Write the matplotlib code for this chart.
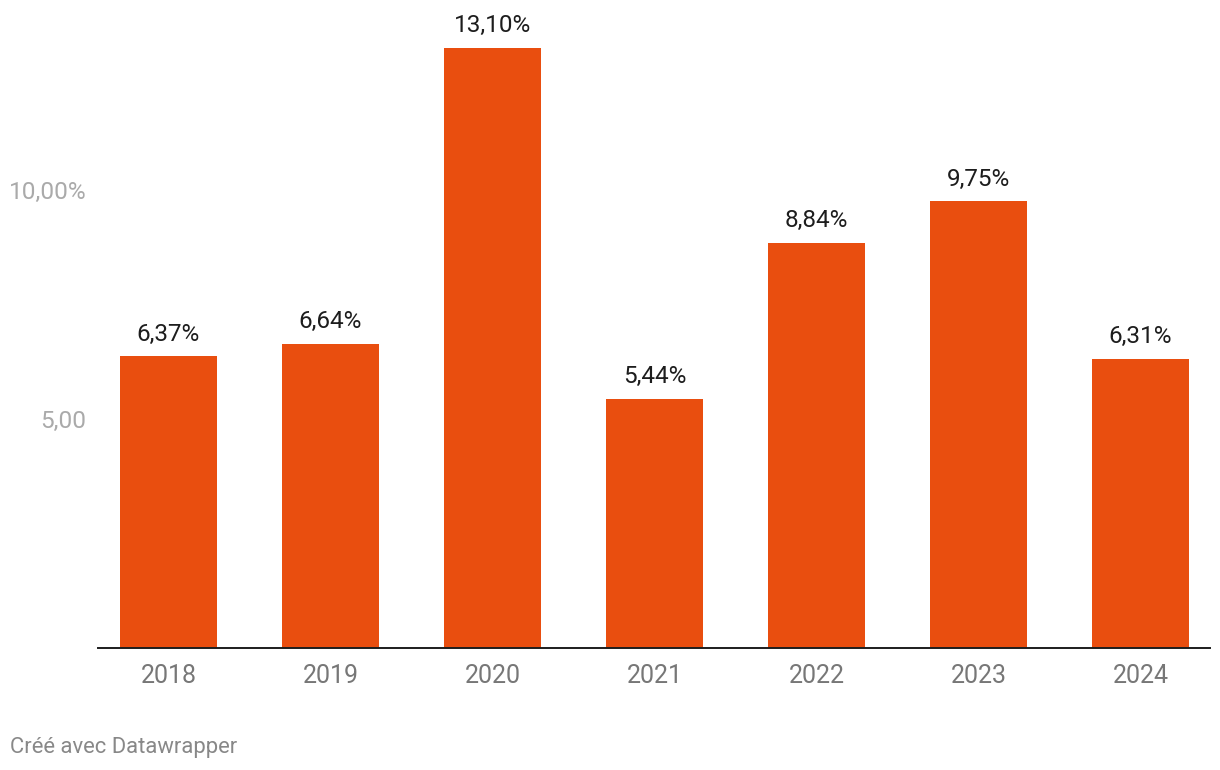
import matplotlib.pyplot as plt

plt.rcParams['font.family'] = ['Roboto', 'DejaVu Sans']

# data
years = ["2018", "2019", "2020", "2021", "2022", "2023", "2024"]
rates = [6.37, 6.64, 13.10, 5.44, 8.84, 9.75, 6.31]
labels = ["6,37%", "6,64%", "13,10%", "5,44%", "8,84%", "9,75%", "6,31%"]
yticks = [5, 10]
ytick_labels = ["5,00", "10,00%"]

W, H = 1220, 770
fig = plt.figure(figsize=(W / 100, H / 100), dpi=100)
ax = fig.add_axes([98 / W, 1 - 648 / H, (1210 - 98) / W, 600 / H])

x = range(len(years))
ax.bar(x, rates, width=0.6, color="#E94E0F", zorder=2)

for i, (v, t) in enumerate(zip(rates, labels)):
    ax.annotate(t, (i, v), xytext=(0, 16), textcoords="offset points",
                ha="center", va="center", fontsize=17.5, color="#1d1d1d")

ax.set_xlim((98 - 168.5) / 162, (1210 - 168.5) / 162)
ax.set_ylim(0, 13.1)

for s in ["top", "right", "left"]:
    ax.spines[s].set_visible(False)
ax.spines["bottom"].set_color("#1d1d1d")
ax.spines["bottom"].set_linewidth(1.4)
ax.spines["bottom"].set_zorder(3)

ax.set_xticks(list(x))
ax.set_xticklabels(years, fontsize=18, color="#777777")
ax.tick_params(axis="x", length=0, pad=11.5)

ax.set_yticks(yticks)
ax.set_yticklabels(ytick_labels, fontsize=17.6, color="#aaaaaa")
ax.tick_params(axis="y", length=0, pad=8.5)

fig.text(10 / W, 1 - 748 / H, "Créé avec Datawrapper", fontsize=15.8,
         color="#888888", ha="left", va="center")

fig.savefig("out.png", dpi=100, facecolor="white")
